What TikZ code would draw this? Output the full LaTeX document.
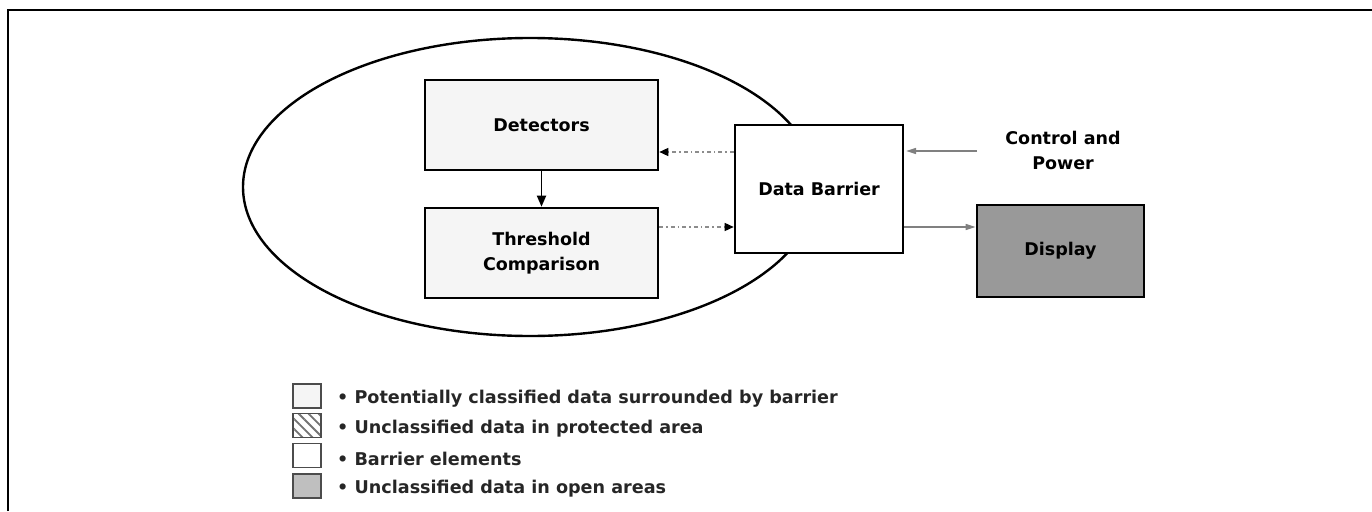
\documentclass[tikz,border=0pt]{standalone}
\usepackage{fontspec}
\setmainfont{DejaVu Sans}
\usetikzlibrary{arrows.meta,patterns.meta}
\begin{document}
\begin{tikzpicture}[x=1pt,y=-1pt,
  blk/.style={draw=black,line width=2.6pt,inner sep=0pt,font=\fontsize{17.5}{25}\selectfont\bfseries,align=center},
  inbox/.style={blk,fill=black!4,minimum width=233pt,minimum height=90pt},
  dasharr/.style={draw=black!45,line width=1.4pt,dash pattern=on 4pt off 3pt on 1.5pt off 3pt,-{Triangle[length=9pt,width=8pt,color=black]}},
  solidar/.style={draw=black!50,line width=1.6pt,-{Triangle[length=10pt,width=6pt]}},
  leg/.style={draw=black!70,line width=1.6pt,minimum width=28pt,minimum height=24pt,inner sep=0pt},
  legtxt/.style={anchor=west,font=\fontsize{17.6}{22}\selectfont\bfseries,inner sep=0pt,text=black!85}]
\useasboundingbox (0,0) rectangle (1372,511);
% frame
\draw[line width=1.5pt] (8,511) -- (8,10) -- (1372,10);
% ellipse
\draw[line width=2.4pt] (530,187) ellipse [x radius=287,y radius=149];
% boxes
\node[inbox] (det) at (541.5,125) {Detectors};
\node[inbox] (thr) at (541.5,253) {Threshold\\Comparison};
\node[blk,fill=white,minimum width=168pt,minimum height=128pt] (db) at (819,189) {Data Barrier};
\node[blk,fill=black!40,minimum width=167pt,minimum height=92pt] (disp) at (1060.5,251) {Display};
\node[font=\fontsize{17.5}{25}\selectfont\bfseries,align=center] (cp) at (1063,150) {Control and\\Power};
% connectors
\draw[line width=1.8pt,-{Triangle[length=11pt,width=9pt]}] (det.south) -- (thr.north);
\draw[dasharr] (db.west |- 0,152) -- (det.east |- 0,152);
\draw[dasharr] (thr.east |- 0,227) -- (db.west |- 0,227);
\coordinate (cpin) at (977,151);
\coordinate (dbin) at (906,151);
\draw[solidar] (cpin) -- (dbin);
\draw[solidar] (db.east |- 0,227) -- (disp.west |- 0,227);
% legend
\node[leg,fill=black!4] (l1) at (307,396) {};
\node[leg,pattern={Lines[angle=-45,distance=7pt,line width=1.8pt]},pattern color=black!55] (l2) at (307,425.5) {};
\node[leg,fill=white] (l3) at (307,455.5) {};
\node[leg,fill=black!25] (l4) at (307,486) {};
\node[legtxt] (t1) at (337,399) {\textbullet\ Potentially classified data surrounded by barrier};
\node[legtxt] (t2) at (337,428.5) {\textbullet\ Unclassified data in protected area};
\node[legtxt] (t3) at (337,458.5) {\textbullet\ Barrier elements};
\node[legtxt] (t4) at (337,489) {\textbullet\ Unclassified data in open areas};
\end{tikzpicture}
\end{document}
